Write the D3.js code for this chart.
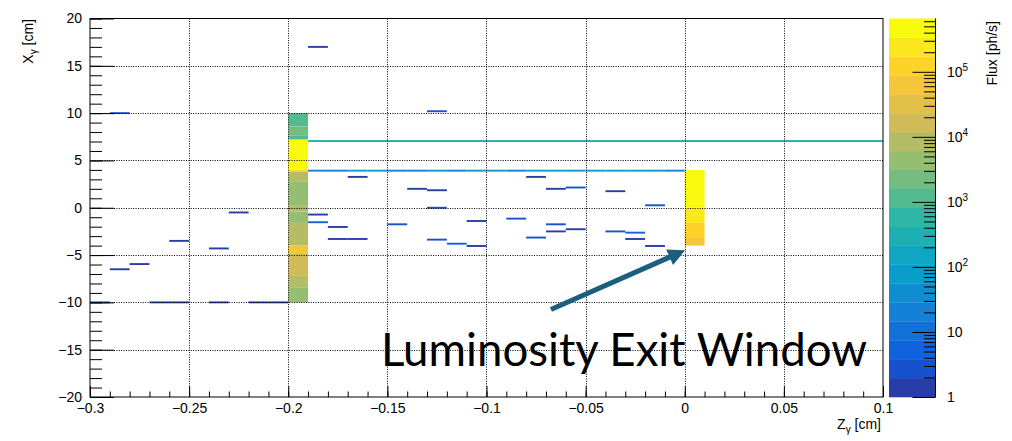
<!DOCTYPE html>
<html>
<head>
<meta charset="utf-8">
<script src="https://cdn.jsdelivr.net/npm/d3@7"></script>
<style>
  body { margin: 0; background: #fff; }
  text { font-family: "Liberation Sans", Arial, Helvetica, sans-serif; }
</style>
</head>
<body>
<svg id="chart" width="1012" height="441"></svg>
<script>
// ---- data ----
// left column (Z bin -0.2 .. -0.19): [X low, X high, flux]
const leftColumnRuns = [
  [8.6, 10.0, 1.1e3],
  [7.6, 8.6, 2.2e3],
  [7.2, 7.6, 1.1e3],
  [4.0, 7.2, 5.0e5],
  [3.8, 4.0, 1.0e5],
  [2.8, 3.8, 8.0e3],
  [0.2, 2.8, 4.5e3],
  [-0.4, 0.2, 8.0e3],
  [-1.6, -0.4, 4.5e3],
  [-4.0, -1.6, 8.0e3],
  [-4.8, -4.0, 6.5e4],
  [-7.2, -4.8, 1.6e4],
  [-8.4, -7.2, 8.0e3],
  [-10.0, -8.4, 4.5e3]
]
// exit window column (Z bin 0 .. 0.01)
const rightColumnRuns = [
  [0.0, 4.0, 5.0e5],
  [-1.6, 0.0, 2.5e5],
  [-3.2, -1.6, 1.2e5],
  [-4.0, -3.2, 6.0e4]
]
// long row at X ~ 7
const tealRowX = 7.05
const tealRowZ = [-0.19, 0.1]
const tealRowFlux = 300
// row at X ~ 4, one value per Z bin from -0.19 to -0.01
const blueRowX = 3.92
const blueRowZStart = -0.19
const blueRowFlux = [20, 20, 80, 80, 20, 20, 80, 20, 80, 80, 20, 80, 80, 80, 80, 80, 80, 80, 20]
// isolated bins: Z low edge, X centre, flux
const dashZ = [-0.29, -0.23, -0.26, -0.24, -0.28, -0.29, -0.30, -0.27, -0.26, -0.24, -0.22, -0.21,
  -0.19, -0.13, -0.17, -0.14, -0.13, -0.08, -0.07, -0.06, -0.13, -0.19, -0.19, -0.18,
  -0.18, -0.17, -0.15, -0.13, -0.12, -0.11, -0.11, -0.09, -0.07, -0.07, -0.06, -0.08,
  -0.04, -0.02, -0.04, -0.03, -0.03, -0.02]
const dashX = [10.0, -0.5, -3.5, -4.3, -5.95, -6.5, -10.0, -10.0, -10.0, -10.0, -10.0, -10.0,
  17.0, 10.2, 3.26, 2.0, 1.85, 3.26, 2.0, 2.14, 0.0, -0.72, -1.53, -2.03,
  -3.3, -3.3, -1.75, -3.37, -3.8, -4.04, -1.4, -1.15, -1.75, -2.5, -2.27, -3.15,
  1.75, 0.26, -2.5, -2.63, -3.3, -4.04]
const dashFlux = [2, 1.5, 1.5, 1.5, 1.5, 1.5, 3, 1.5, 1.5, 1.5, 1.5, 1.5,
  1.5, 2, 1.5, 1.5, 1.5, 1.5, 1.5, 2, 2, 1.5, 5, 1.5,
  1.5, 1.5, 3, 2.5, 5, 1.5, 1.5, 2.5, 2.5, 1.5, 1.5, 2.5,
  1.5, 2.5, 2.5, 5, 1.5, 1.5]

const zBinWidth = 0.01
const xBinWidth = 0.2
const xTicksMajor = [-0.3, -0.25, -0.2, -0.15, -0.1, -0.05, 0, 0.05, 0.1]
const yTicksMajor = [-20, -15, -10, -5, 0, 5, 10, 15, 20]
const fluxDecades = [1, 10, 100, 1e3, 1e4, 1e5]
const fluxMin = 1
const fluxMax = 6.6e5
const nContours = 20

// ROOT kBird palette
const birdStops = [0, 0.125, 0.25, 0.375, 0.5, 0.625, 0.75, 0.875, 1]
const birdR = [0.2082, 0.0592, 0.0780, 0.0232, 0.1802, 0.5301, 0.8186, 0.9956, 0.9764]
const birdG = [0.1664, 0.3599, 0.5041, 0.6419, 0.7178, 0.7492, 0.7328, 0.7862, 0.9832]
const birdB = [0.5293, 0.8684, 0.8385, 0.7914, 0.6425, 0.4662, 0.3499, 0.1968, 0.0539]

// ---- layout ----
const frame = { left: 90, right: 883, top: 18.5, bottom: 397 }
const bar = { left: 889, right: 935.5 }

const x = d3.scaleLinear().domain([-0.3, 0.1]).range([frame.left, frame.right])
const y = d3.scaleLinear().domain([-20, 20]).range([frame.bottom, frame.top])
const yc = d3.scaleLog().domain([fluxMin, fluxMax]).range([frame.bottom, frame.top])
const level = d3.scaleLog().domain([fluxMin, fluxMax]).range([0, nContours])

const bird = d3.scaleLinear()
  .domain(birdStops)
  .range(birdStops.map((s, i) => d3.rgb(birdR[i] * 255, birdG[i] * 255, birdB[i] * 255)))
  .interpolate(d3.interpolateRgb)

function bandColor(i) {
  const idx = Math.min(254, Math.floor((i + 0.99) * 255 / nContours))
  return bird(idx / 254)
}
function fluxColor(v) {
  const b = Math.max(0, Math.min(nContours - 1, Math.floor(level(v))))
  return bandColor(b)
}

// build cells
const cells = []
leftColumnRuns.forEach(r => cells.push({ z0: -0.2, z1: -0.2 + zBinWidth, x0: r[0], x1: r[1], v: r[2] }))
rightColumnRuns.forEach(r => cells.push({ z0: 0, z1: zBinWidth, x0: r[0], x1: r[1], v: r[2] }))
cells.push({ z0: tealRowZ[0], z1: tealRowZ[1], x0: tealRowX - xBinWidth / 2, x1: tealRowX + xBinWidth / 2, v: tealRowFlux })
blueRowFlux.forEach((v, i) => {
  const z0 = blueRowZStart + i * zBinWidth
  cells.push({ z0: z0, z1: z0 + zBinWidth, x0: blueRowX - xBinWidth / 2, x1: blueRowX + xBinWidth / 2, v: v })
})
dashZ.forEach((z, i) => {
  cells.push({ z0: z, z1: z + zBinWidth, x0: dashX[i] - xBinWidth / 2, x1: dashX[i] + xBinWidth / 2, v: dashFlux[i] })
})

const svg = d3.select('#chart')

// histogram cells
svg.append('g')
  .attr('class', 'cells')
  .selectAll('rect')
  .data(cells)
  .enter()
  .append('rect')
  .attr('x', d => x(d.z0))
  .attr('y', d => y(d.x1))
  .attr('width', d => x(d.z1) - x(d.z0))
  .attr('height', d => y(d.x0) - y(d.x1))
  .attr('fill', d => fluxColor(d.v))

// grid
const grid = svg.append('g').attr('class', 'grid')
  .attr('stroke', '#000').attr('stroke-width', 1).attr('stroke-dasharray', '1 1.4')
grid.selectAll('.gx')
  .data(xTicksMajor.slice(1, -1))
  .enter()
  .append('line')
  .attr('x1', d => Math.round(x(d)) + 0.5).attr('x2', d => Math.round(x(d)) + 0.5)
  .attr('y1', frame.top).attr('y2', frame.bottom)
grid.selectAll('.gy')
  .data(yTicksMajor.slice(1, -1))
  .enter()
  .append('line')
  .attr('y1', d => Math.round(y(d)) + 0.5).attr('y2', d => Math.round(y(d)) + 0.5)
  .attr('x1', frame.left).attr('x2', frame.right)

// axes (ticks pointing inside the frame)
const fmt = d3.format('~g')
const xMinor = d3.range(-30, 11).map(d => d / 100)
const yMinor = d3.range(-20, 21)

function styleAxis(g) {
  g.select('.domain').remove()
  g.selectAll('line').attr('stroke', '#000')
  g.selectAll('text').attr('font-size', 14).attr('fill', '#000')
}

svg.append('g')
  .attr('transform', `translate(0,${frame.bottom})`)
  .call(d3.axisBottom(x).tickValues(xMinor).tickSize(-5.5).tickFormat(''))
  .call(styleAxis)
svg.append('g')
  .attr('transform', `translate(0,${frame.bottom})`)
  .call(d3.axisBottom(x).tickValues(xTicksMajor).tickSize(-11).tickPadding(6).tickFormat(fmt))
  .call(styleAxis)

svg.append('g')
  .attr('transform', `translate(${frame.left},0)`)
  .call(d3.axisLeft(y).tickValues(yMinor).tickSize(-12).tickFormat(''))
  .call(styleAxis)
svg.append('g')
  .attr('transform', `translate(${frame.left},0)`)
  .call(d3.axisLeft(y).tickValues(yTicksMajor).tickSize(-24).tickPadding(8).tickFormat(fmt))
  .call(styleAxis)

// frame
svg.append('rect')
  .attr('x', frame.left).attr('y', frame.top)
  .attr('width', frame.right - frame.left).attr('height', frame.bottom - frame.top)
  .attr('fill', 'none').attr('stroke', '#000').attr('stroke-width', 1)

// axis titles
const yTitle = svg.append('text')
  .attr('transform', `translate(33,19) rotate(-90)`)
  .attr('text-anchor', 'end').attr('font-size', 14)
yTitle.append('tspan').text('X')
yTitle.append('tspan').attr('font-size', 10).attr('dy', 4).text('γ')
yTitle.append('tspan').attr('dy', -4).text(' [cm]')

const xTitle = svg.append('text')
  .attr('x', 881).attr('y', 429)
  .attr('text-anchor', 'end').attr('font-size', 14)
xTitle.append('tspan').text('Z')
xTitle.append('tspan').attr('font-size', 10).attr('dy', 4).text('γ')
xTitle.append('tspan').attr('dy', -4).text(' [cm]')

// colour bar
const bands = d3.range(nContours)
const step = Math.log10(fluxMax / fluxMin) / nContours
svg.append('g')
  .attr('class', 'palette')
  .selectAll('rect')
  .data(bands)
  .enter()
  .append('rect')
  .attr('x', bar.left)
  .attr('width', bar.right - bar.left)
  .attr('y', i => yc(Math.pow(10, (i + 1) * step)))
  .attr('height', i => yc(Math.pow(10, i * step)) - yc(Math.pow(10, (i + 1) * step)) + 0.3)
  .attr('fill', i => bandColor(i))

const fluxMinor = []
fluxDecades.forEach(d => d3.range(2, 10).forEach(m => { if (d * m <= fluxMax) fluxMinor.push(d * m) }))

svg.append('g')
  .attr('transform', `translate(${bar.right},0)`)
  .call(d3.axisRight(yc).tickValues(fluxMinor).tickSize(-11.5).tickFormat(''))
  .call(styleAxis)
svg.append('g')
  .attr('transform', `translate(${bar.right},0)`)
  .call(d3.axisRight(yc).tickValues(fluxDecades).tickSize(-23).tickFormat(''))
  .call(styleAxis)
svg.append('line')
  .attr('x1', bar.right).attr('x2', bar.right)
  .attr('y1', frame.top).attr('y2', frame.bottom)
  .attr('stroke', '#000')

const barLabels = svg.append('g').selectAll('text')
  .data(fluxDecades)
  .enter()
  .append('text')
  .attr('x', 947)
  .attr('y', d => yc(d) + 5)
  .attr('font-size', 14)
barLabels.each(function (d) {
  const e = Math.round(Math.log10(d))
  const t = d3.select(this)
  if (e <= 1) { t.text(String(d)); return }
  t.append('tspan').text('10')
  t.append('tspan').attr('font-size', 10).attr('dy', -6).text(e)
})

svg.append('text')
  .attr('transform', 'translate(997,21) rotate(-90)')
  .attr('text-anchor', 'end').attr('font-size', 14)
  .text('Flux [ph/s]')

// annotation
const tail = [x(-0.0675), y(-10.75)]
const tip = [x(0.0002), y(-4.5)]
const dx = tip[0] - tail[0], dy = tip[1] - tail[1]
const len = Math.hypot(dx, dy)
const ux = dx / len, uy = dy / len
const headLen = 17, headHalf = 8.5
const base = [tip[0] - headLen * ux, tip[1] - headLen * uy]
svg.append('line')
  .attr('x1', tail[0]).attr('y1', tail[1])
  .attr('x2', base[0] + 2 * ux).attr('y2', base[1] + 2 * uy)
  .attr('stroke', '#1b5e7d').attr('stroke-width', 5)
svg.append('polygon')
  .attr('points', [tip, [base[0] - headHalf * uy, base[1] + headHalf * ux], [base[0] + headHalf * uy, base[1] - headHalf * ux]].map(p => p.join(',')).join(' '))
  .attr('fill', '#1b5e7d')

svg.append('text')
  .attr('x', 381).attr('y', 366)
  .style('font-family', 'Lato, "Open Sans", sans-serif')
  .attr('font-size', 46)
  .attr('textLength', 486).attr('lengthAdjust', 'spacingAndGlyphs')
  .attr('fill', '#000')
  .text('Luminosity Exit Window')
</script>
</body>
</html>
